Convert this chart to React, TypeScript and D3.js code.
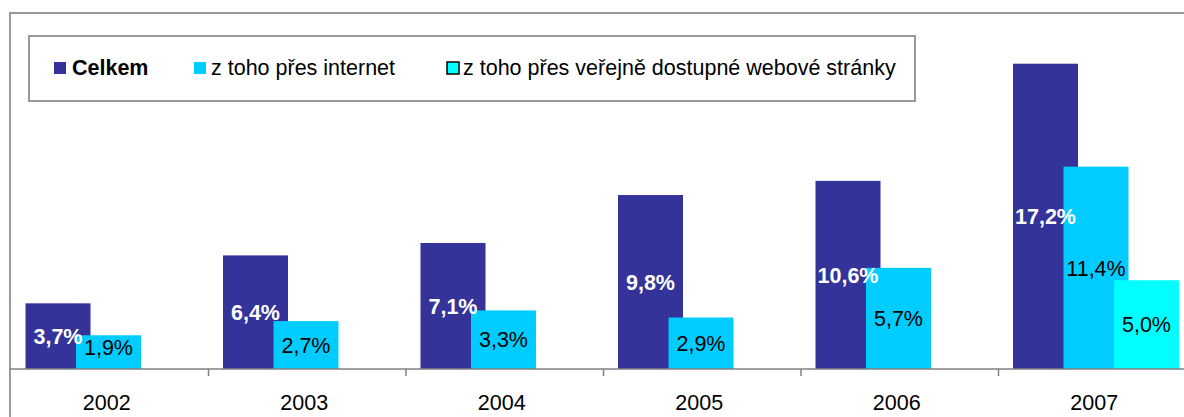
import React, { useEffect, useRef } from 'react';
import * as d3 from 'd3';

const years = ['2002', '2003', '2004', '2005', '2006', '2007'];
const celkem = [3.7, 6.4, 7.1, 9.8, 10.6, 17.2];
const internet = [1.9, 2.7, 3.3, 2.9, 5.7, 11.4];
const webStranky = [null, null, null, null, null, 5.0];
const seriesNames = ['Celkem', 'z toho přes internet', 'z toho přes veřejně dostupné webové stránky'];

const W = 1184;
const H = 417;
const FONT = '"Liberation Sans", Arial, sans-serif';
const FS = 21.5;

const fmt = (v: number) => v.toFixed(1).replace('.', ',') + '%';

const App: React.FC = () => {
  const svgRef = useRef<SVGSVGElement>(null);

  useEffect(() => {
    if (!svgRef.current) return;
    const svg = d3.select(svgRef.current);
    svg.selectAll('*').remove();

    const baseline = 369;
    const x = d3.scaleBand<string>().domain(years).range([11, 1196]).paddingInner(0).paddingOuter(0);
    const y = d3.scaleLinear().domain([0, 20]).range([baseline, baseline - 355]);
    const inner = d3.scaleBand<string>().domain(['c', 'i', 'w']).range([14.5, 14.5 + 3 * 50.5]);
    const barW = 65;

    const series = [
      { key: 'c', values: celkem, color: '#333399', labelColor: '#fff', weight: 'bold' },
      { key: 'i', values: internet, color: '#00CCFF', labelColor: '#000', weight: 'normal' },
      { key: 'w', values: webStranky, color: '#00FFFF', labelColor: '#000', weight: 'normal' },
    ];

    // outer chart frame (cut off at right and bottom)
    svg.append('rect')
      .attr('x', 10).attr('y', 13)
      .attr('width', W + 20).attr('height', H + 20)
      .attr('fill', 'none').attr('stroke', '#999').attr('stroke-width', 2);

    // bars
    series.forEach(s => {
      svg.append('g').selectAll('rect')
        .data(s.values.map((v, i) => ({ v, year: years[i] })).filter(d => d.v != null))
        .enter().append('rect')
        .attr('x', d => (x(d.year) as number) + (inner(s.key) as number))
        .attr('y', d => y(d.v as number))
        .attr('width', barW)
        .attr('height', d => baseline - y(d.v as number))
        .attr('fill', s.color);
    });

    // category axis
    svg.append('line')
      .attr('x1', 10).attr('x2', W)
      .attr('y1', baseline).attr('y2', baseline)
      .attr('stroke', '#808080').attr('stroke-width', 1.5);

    svg.append('g').selectAll('line')
      .data(years.slice(1))
      .enter().append('line')
      .attr('x1', d => x(d) as number).attr('x2', d => x(d) as number)
      .attr('y1', baseline).attr('y2', baseline + 7)
      .attr('stroke', '#808080').attr('stroke-width', 1.5);

    svg.append('g').selectAll('text')
      .data(years)
      .enter().append('text')
      .attr('x', d => (x(d) as number) + x.bandwidth() / 2 - 3)
      .attr('y', 410)
      .attr('text-anchor', 'middle')
      .attr('font-family', FONT).attr('font-size', FS)
      .attr('fill', '#000')
      .text(d => d);

    // data labels
    series.forEach(s => {
      svg.append('g').selectAll('text')
        .data(s.values.map((v, i) => ({ v, year: years[i] })).filter(d => d.v != null))
        .enter().append('text')
        .attr('x', d => (x(d.year) as number) + (inner(s.key) as number) + barW / 2)
        .attr('y', d => Math.min((y(d.v as number) + baseline) / 2, baseline - 22))
        .attr('dy', '0.36em')
        .attr('text-anchor', 'middle')
        .attr('font-family', FONT).attr('font-size', FS)
        .attr('font-weight', s.weight)
        .attr('fill', s.labelColor)
        .text(d => fmt(d.v as number));
    });

    // legend
    const lg = svg.append('g');
    lg.append('rect')
      .attr('x', 29).attr('y', 36).attr('width', 886).attr('height', 65)
      .attr('fill', '#fff').attr('stroke', '#999').attr('stroke-width', 2);

    const items = [
      { sx: 54, tx: 72, color: '#333399', border: false, weight: 'bold' },
      { sx: 194, tx: 211, color: '#00CCFF', border: false, weight: 'normal' },
      { sx: 447, tx: 463, color: '#00FFFF', border: true, weight: 'normal' },
    ];
    items.forEach((it, i) => {
      lg.append('rect')
        .attr('x', it.sx).attr('y', 62).attr('width', 12).attr('height', 12)
        .attr('fill', it.color)
        .attr('stroke', it.border ? '#000' : 'none')
        .attr('stroke-width', it.border ? 1.5 : 0);
      lg.append('text')
        .attr('x', it.tx).attr('y', 75)
        .attr('font-family', FONT).attr('font-size', FS)
        .attr('font-weight', it.weight)
        .attr('fill', '#000')
        .text(seriesNames[i]);
    });
  }, []);

  return (
    <div style={{ position: 'fixed', left: 0, top: 0, width: W, height: H, background: '#fff' }}>
      <svg ref={svgRef} width={W} height={H} style={{ display: 'block' }} />
    </div>
  );
};

export default App;
